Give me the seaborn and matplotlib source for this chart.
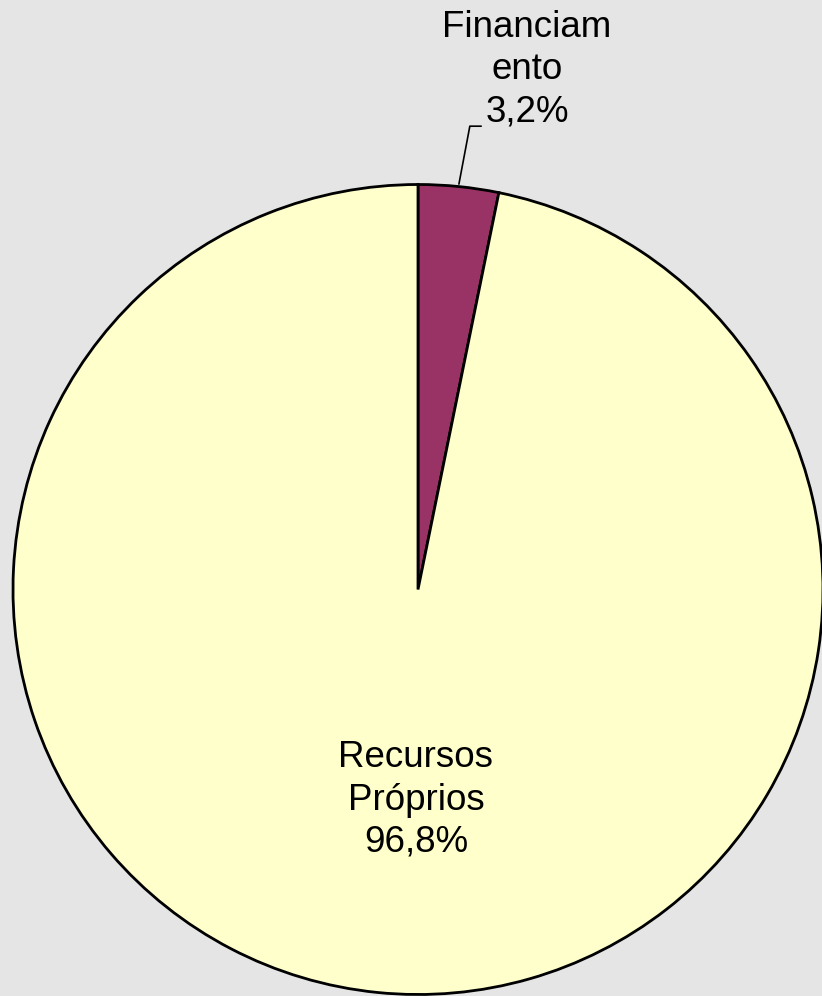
import seaborn as sns
import matplotlib.pyplot as plt

# dados
categorias = ['Financiamento', 'Recursos Próprios']
rotulos = ['Financiam\nento\n3,2%', 'Recursos\nPróprios\n96,8%']
valores = [3.2, 96.8]
cores = ['#993366', '#FFFFCC']

sns.set_style('white')
plt.rcParams['font.family'] = ['Liberation Sans', 'DejaVu Sans']

fig = plt.figure(figsize=(8.22, 9.96), dpi=100)
fig.patch.set_facecolor('#E5E5E5')
ax = fig.add_axes([0, 0, 1, 1])
ax.set_facecolor('#E5E5E5')

wedges, _ = ax.pie(valores, colors=cores, startangle=90, counterclock=False,
                   radius=1.0, wedgeprops=dict(edgecolor='black', linewidth=2))

# escala: raio = 405 px, centro em (418, 589.5)
r = 405.0
ax.set_xlim(-418 / r, (822 - 418) / r)
ax.set_ylim(-(996 - 589.5) / r, 589.5 / r)
ax.set_aspect('auto')
ax.axis('off')

# rótulo da fatia pequena com linha de chamada
ax.plot([0.101, 0.128, 0.156], [1.001, 1.144, 1.144], color='black', lw=1.2, clip_on=False)
ax.text(0.269, 1.283, rotulos[0], ha='center', va='center', fontsize=26.5,
        linespacing=1.27, color='black')

# rótulo da fatia grande
ax.text(-0.005, -0.52, rotulos[1], ha='center', va='center', fontsize=26.5,
        linespacing=1.27, color='black')

fig.savefig('out.png', dpi=100, facecolor=fig.get_facecolor())
